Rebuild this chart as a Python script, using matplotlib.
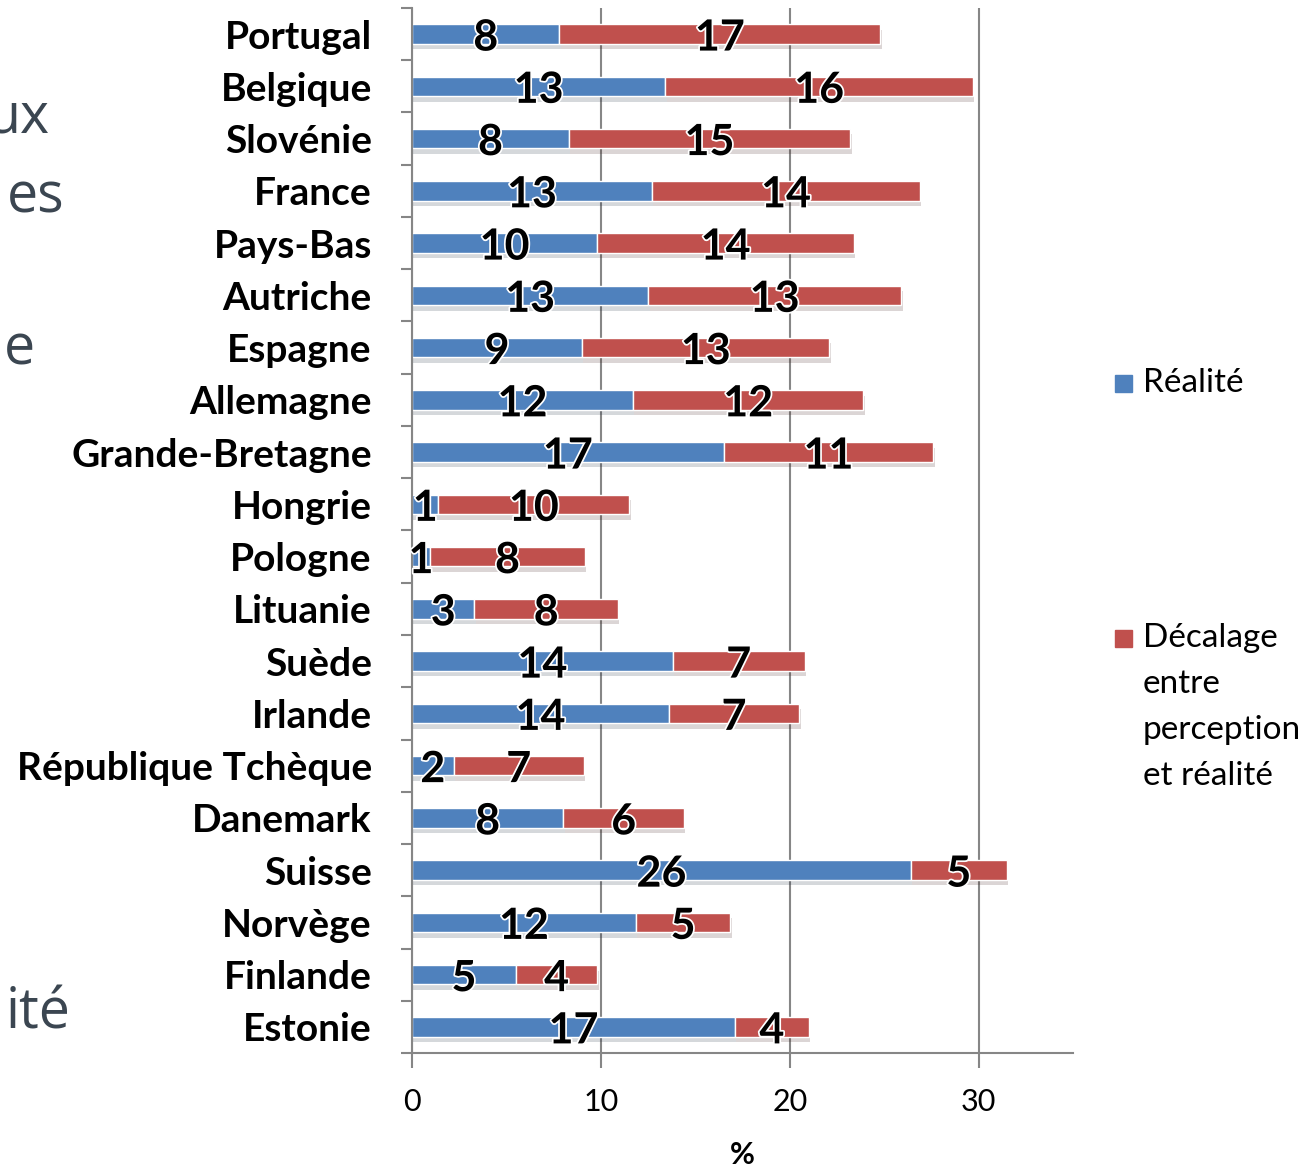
import matplotlib
matplotlib.use("Agg")
import matplotlib.pyplot as plt
import matplotlib.patheffects as pe
from matplotlib.patches import Rectangle
import numpy as np

# données
pays = ["Portugal", "Belgique", "Slovénie", "France", "Pays-Bas", "Autriche",
        "Espagne", "Allemagne", "Grande-Bretagne", "Hongrie", "Pologne",
        "Lituanie", "Suède", "Irlande", "République Tchèque", "Danemark",
        "Suisse", "Norvège", "Finlande", "Estonie"]
realite = [7.8, 13.4, 8.3, 12.7, 9.8, 12.5, 9.0, 11.7, 16.5, 1.4, 0.95,
           3.3, 13.8, 13.6, 2.2, 8.0, 26.4, 11.85, 5.5, 17.1]
decalage = [17.0, 16.3, 14.9, 14.2, 13.6, 13.4, 13.1, 12.2, 11.1, 10.1, 8.2,
            7.6, 7.0, 6.9, 6.9, 6.4, 5.1, 5.0, 4.3, 3.9]
# étiquettes affichées (arrondies dans la source)
lbl_realite = ["8", "13", "8", "13", "10", "13", "9", "12", "17", "1", "1",
               "3", "14", "14", "2", "8", "26", "12", "5", "17"]
lbl_decalage = ["17", "16", "15", "14", "14", "13", "13", "12", "11", "10", "8",
                "8", "7", "7", "7", "6", "5", "5", "4", "4"]
xticks = [0, 10, 20, 30]

BLEU = "#4F81BD"
ROUGE = "#C0504D"
GRIS = "#868686"

plt.rcParams['font.family'] = ['Lato', 'DejaVu Sans']

fig = plt.figure(figsize=(13.11, 11.69), dpi=100)
ax = fig.add_axes([0.3143, 0.0992, 0.5042, 0.894])

y = np.arange(len(pays))
ombre = [pe.SimplePatchShadow(offset=(1, -4), alpha=0.18), pe.Normal()]
b1 = ax.barh(y, realite, height=0.37, color=BLEU, edgecolor="white", linewidth=1,
             label="Réalité")
b2 = ax.barh(y, decalage, left=realite, height=0.37, color=ROUGE, edgecolor="white",
             linewidth=1, label="Décalage entre perception et réalité")
for b in list(b1) + list(b2):
    b.set_path_effects(ombre)

contour = [pe.withStroke(linewidth=2.5, foreground="white")]
for c, lbl in ((b1, lbl_realite), (b2, lbl_decalage)):
    txts = ax.bar_label(c, labels=lbl, label_type="center", fontsize=31,
                        fontweight="bold", color="black")
    for t in txts:
        t.set_path_effects(contour)
        t.set_va("center_baseline")

ax.set_ylim(len(pays) - 0.5, -0.5)
ax.set_xlim(0, 35)
ax.set_yticks(y)
ax.set_yticklabels(pays, fontsize=28, fontweight="bold")
ax.set_yticks(np.arange(-0.5, len(pays)), minor=True)
ax.tick_params(axis="y", which="major", length=0, pad=29)
ax.tick_params(axis="y", which="minor", length=8, width=1.5, color=GRIS)
ax.set_xticks(xticks)
ax.tick_params(axis="x", length=11, width=1.5, color=GRIS, labelsize=22, pad=14)
ax.set_xlabel("%", fontsize=22, fontweight="bold", labelpad=18)

for s in ("top", "right"):
    ax.spines[s].set_visible(False)
for s in ("left", "bottom"):
    ax.spines[s].set_color(GRIS)
    ax.spines[s].set_linewidth(1.5)
ax.xaxis.grid(True, color=GRIS, linewidth=1.5)
ax.set_axisbelow(True)

# légende à droite
fig.patches.append(Rectangle((1115 / 1311, 1 - 392 / 1169), 17 / 1311, 17 / 1169,
                             transform=fig.transFigure, color=BLEU))
fig.text(1143 / 1311, 1 - 383 / 1169, "Réalité", fontsize=24, va="center")
fig.patches.append(Rectangle((1115 / 1311, 1 - 647 / 1169), 17 / 1311, 17 / 1169,
                             transform=fig.transFigure, color=ROUGE))
fig.text(1143 / 1311, 1 - 623 / 1169, "Décalage\nentre\nperception\net réalité",
         fontsize=24, va="top", linespacing=1.66)

# fragments de texte coupés à gauche
gris_txt = "#3B4651"
for txt, xr, yc in [("ux", 50, 118), ("es", 64, 198), ("e", 35, 350), ("ité", 70, 1014)]:
    fig.text(xr / 1311, 1 - yc / 1169, txt, fontsize=40, color=gris_txt,
             ha="right", va="center", family="Open Sans")

fig.savefig("out.png", dpi=100)
